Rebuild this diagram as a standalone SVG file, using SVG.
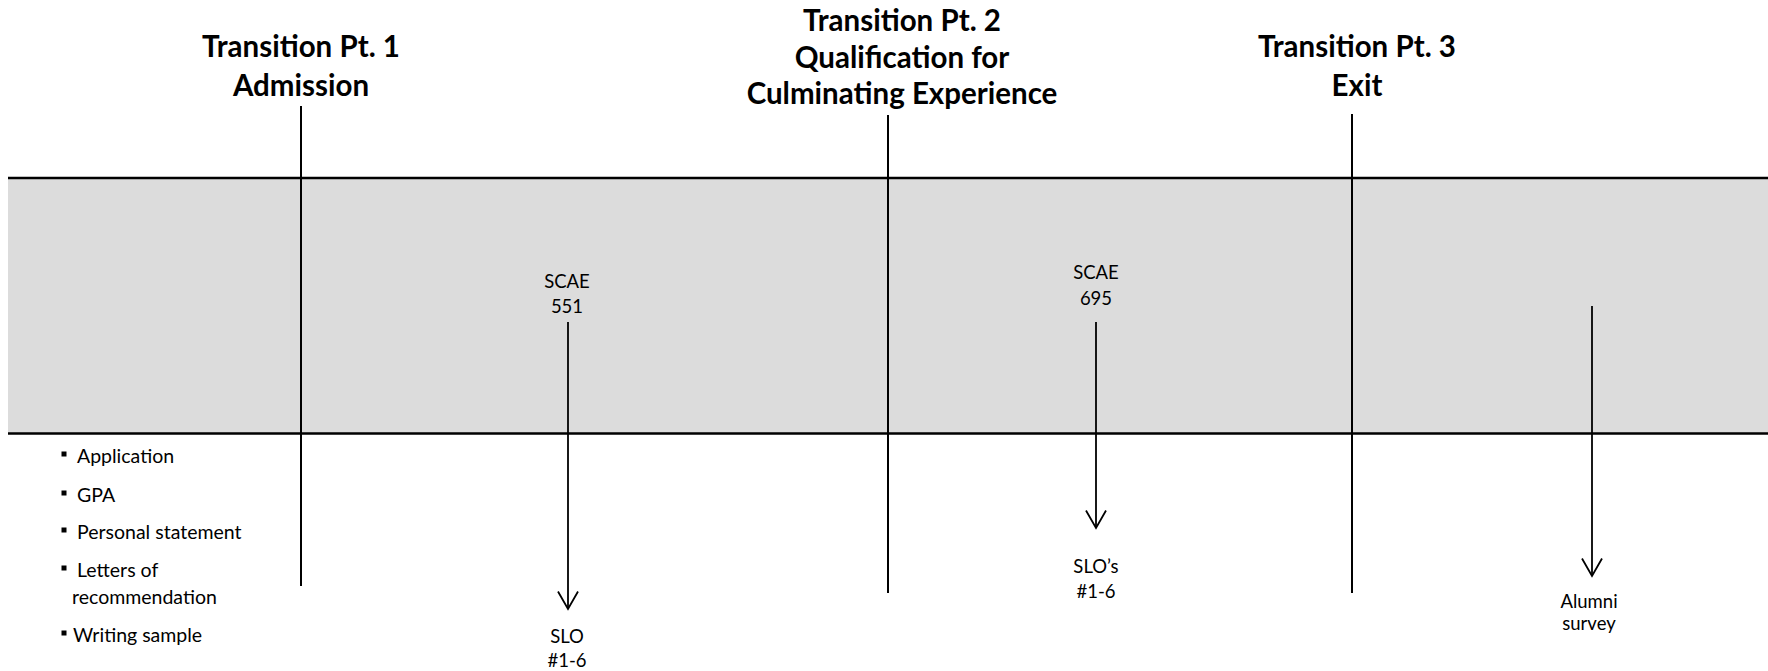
<svg xmlns="http://www.w3.org/2000/svg" width="1768" height="671" viewBox="0 0 1768 671">
  <style>
    .title { font-family: Lato, "Liberation Sans", sans-serif; font-weight: bold; font-size: 29.5px; fill: #000; text-anchor: middle; }
    .lbl { font-family: Lato, "Liberation Sans", sans-serif; font-size: 18.5px; fill: #000; text-anchor: middle; }
    .item { font-family: Lato, "Liberation Sans", sans-serif; font-size: 19.5px; fill: #000; }
    .band { fill: #DCDCDC; }
    .hline { stroke: #000; stroke-width: 2.5; fill: none; }
    .vline { stroke: #000; stroke-width: 2; fill: none; }
    .arrow { stroke: #000; stroke-width: 1.8; fill: none; }
    .bullet { fill: #000; }
  </style>
  <defs>
    <marker id="vhead" viewBox="-20 -12 22 24" refX="0" refY="0" markerWidth="22" markerHeight="24" markerUnits="userSpaceOnUse" orient="auto">
      <path d="M -17.5 -10 L 0 0 L -17.5 10" fill="none" stroke="#000" stroke-width="1.8"/>
    </marker>
  </defs>

  <rect class="band" x="8" y="178" width="1760" height="255.5"/>
  <line class="hline" x1="8" y1="178" x2="1768" y2="178"/>
  <line class="hline" x1="8" y1="433.5" x2="1768" y2="433.5"/>

  <g id="tp1">
    <text class="title" x="301" y="57">Transition Pt. 1</text>
    <text class="title" x="301" y="96">Admission</text>
    <line class="vline" x1="301" y1="106" x2="301" y2="586"/>
  </g>

  <g id="tp2">
    <text class="title" x="902" y="31">Transition Pt. 2</text>
    <text class="title" x="902" y="67.5">Qualification for</text>
    <text class="title" x="902" y="104">Culminating Experience</text>
    <line class="vline" x1="888" y1="115" x2="888" y2="593"/>
  </g>

  <g id="tp3">
    <text class="title" x="1357" y="57">Transition Pt. 3</text>
    <text class="title" x="1357" y="96">Exit</text>
    <line class="vline" x1="1352" y1="114" x2="1352" y2="593"/>
  </g>

  <g id="admission-items">
    <rect class="bullet" x="61.5" y="451.5" width="5" height="5"/>
    <text class="item" x="77" y="463">Application</text>
    <rect class="bullet" x="61.5" y="490.5" width="5" height="5"/>
    <text class="item" x="77" y="502">GPA</text>
    <rect class="bullet" x="61.5" y="527.5" width="5" height="5"/>
    <text class="item" x="77" y="539">Personal statement</text>
    <rect class="bullet" x="61.5" y="565.5" width="5" height="5"/>
    <text class="item" x="77" y="577">Letters of</text>
    <text class="item" x="72" y="604">recommendation</text>
    <rect class="bullet" x="61.5" y="630.5" width="5" height="5"/>
    <text class="item" x="73" y="642">Writing sample</text>
  </g>

  <g id="scae551">
    <text class="lbl" x="567" y="288">SCAE</text>
    <text class="lbl" x="567" y="313">551</text>
  </g>
  <g id="slo1">
    <text class="lbl" x="567" y="643">SLO</text>
    <text class="lbl" x="567" y="667">#1-6</text>
  </g>

  <g id="scae695">
    <text class="lbl" x="1096" y="279">SCAE</text>
    <text class="lbl" x="1096" y="305">695</text>
  </g>
  <g id="slo2">
    <text class="lbl" x="1096" y="573">SLO’s</text>
    <text class="lbl" x="1096" y="598">#1-6</text>
  </g>

  <g id="alumni">
    <text class="lbl" x="1589" y="608">Alumni</text>
    <text class="lbl" x="1589" y="630">survey</text>
  </g>

  <g id="connectors">
    <line class="arrow" x1="568" y1="322" x2="568" y2="609" marker-end="url(#vhead)"/>
    <line class="arrow" x1="1096" y1="322" x2="1096" y2="528" marker-end="url(#vhead)"/>
    <line class="arrow" x1="1592" y1="306" x2="1592" y2="576" marker-end="url(#vhead)"/>
  </g>
</svg>
